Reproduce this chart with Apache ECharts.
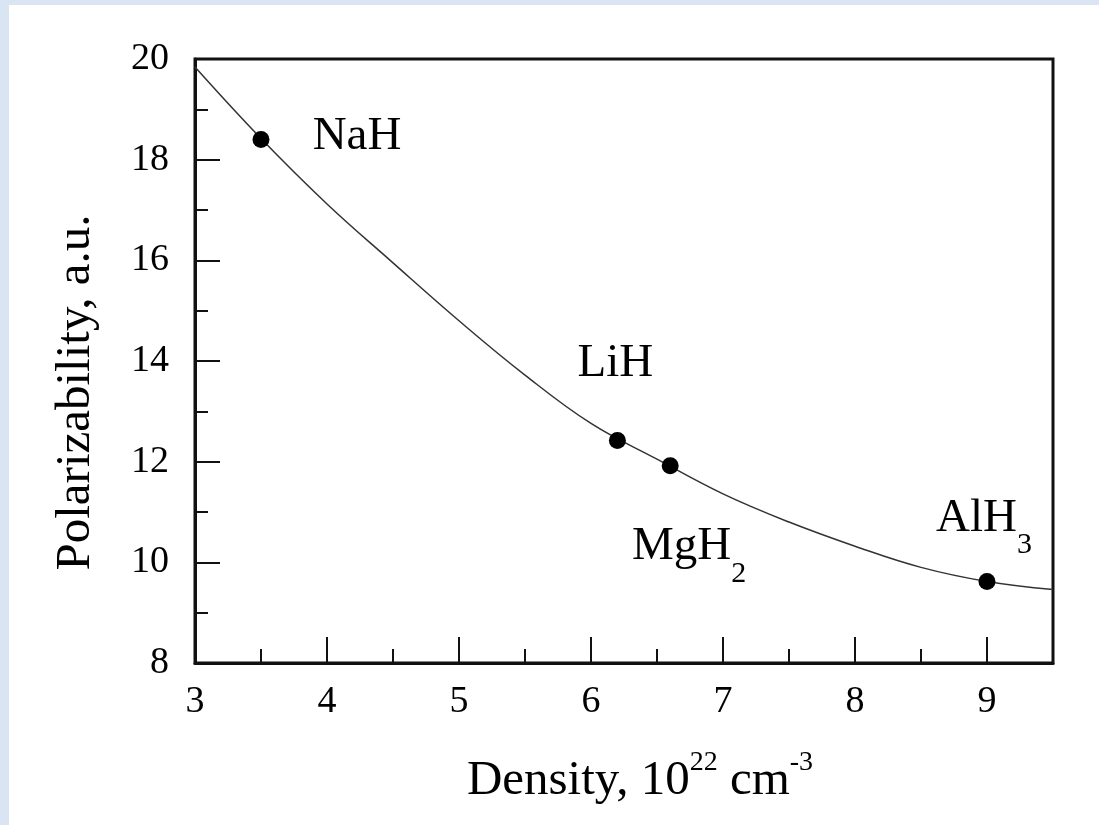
<!DOCTYPE html>
<html>
<head>
<meta charset="utf-8">
<script src="https://cdn.jsdelivr.net/npm/echarts@6/dist/echarts.min.js"></script>
<style>
  html, body { margin: 0; padding: 0; width: 1099px; height: 825px; background: #d9e5f2; overflow: hidden; }
  #chart { position: absolute; left: 9px; top: 5px; width: 1090px; height: 820px; background: #ffffff; }
</style>
</head>
<body>
<div id="chart"></div>
<script>
// ---- data ----
const curveX = [3.0, 3.5, 4.0, 4.5, 5.0, 5.5, 6.0, 6.5, 7.0, 7.5, 8.0, 8.5, 9.0, 9.5];
const curveY = [19.84, 18.42, 17.12, 15.95, 14.80, 13.72, 12.76, 12.05, 11.36, 10.80, 10.32, 9.90, 9.62, 9.46];
const pointNames = ['NaH', 'LiH', 'MgH2', 'AlH3'];
const pointX = [3.5, 6.2, 6.6, 9.0];
const pointY = [18.4, 12.42, 11.92, 9.62];
const xTickLabels = [3, 4, 5, 6, 7, 8, 9];
const yTickLabels = [8, 10, 12, 14, 16, 18, 20];

// ---- presentation ----
const FONT = "'Liberation Serif', 'DejaVu Serif', serif";
const labelText = {
  NaH: '{m|NaH}',
  LiH: '{m|LiH}',
  MgH2: '{m|MgH}{sub|2}',
  AlH3: '{m|AlH}{sub|3}'
};
const labelOffset = {
  NaH: [96, -3],
  LiH: [-2, -77],
  MgH2: [19, 81],
  AlH3: [-3, -63]
};

const curveData = curveX.map((x, i) => [x, curveY[i]]);
const pointData = pointNames.map((n, i) => ({
  name: n,
  value: [pointX[i], pointY[i]],
  label: { formatter: labelText[n], offset: labelOffset[n] }
}));

const chart = echarts.init(document.getElementById('chart'), null, { renderer: 'canvas' });

const xMin = 3, xMax = 9.5, yMin = 8, yMax = 20;

const option = {
  animation: false,
  backgroundColor: '#ffffff',
  grid: {
    left: 186, right: 46, top: 54, bottom: 162,
    show: true, borderColor: '#111', borderWidth: 3, backgroundColor: 'transparent'
  },
  xAxis: [
    {
      type: 'value', min: xMin, max: xMax, interval: 1,
      name: '{m|Density, 10}{sup|22}{m| cm}{sup|-3}',
      nameLocation: 'middle', nameGap: 86,
      nameTextStyle: {
        padding: [0, 0, 0, 32],
        rich: {
          m: { fontFamily: FONT, fontSize: 49, color: '#000' },
          sup: { fontFamily: FONT, fontSize: 28, color: '#000', padding: [0, 0, 37, 0] }
        }
      },
      axisLine: { show: true, lineStyle: { color: '#111', width: 3 } },
      axisTick: { show: true, inside: true, length: 26, lineStyle: { color: '#111', width: 2 } },
      axisLabel: {
        show: true, margin: 20, fontFamily: FONT, fontSize: 38, color: '#000',
        showMaxLabel: false,
        formatter: v => (xTickLabels.indexOf(v) >= 0 ? String(v) : '')
      },
      splitLine: { show: false }
    },
    {
      type: 'value', min: xMin, max: xMax, interval: 0.5, position: 'bottom',
      axisLine: { show: false },
      axisTick: { show: true, inside: true, length: 14, lineStyle: { color: '#111', width: 2 } },
      axisLabel: { show: false },
      splitLine: { show: false }
    }
  ],
  yAxis: [
    {
      type: 'value', min: yMin, max: yMax, interval: 2,
      name: 'Polarizability, a.u.',
      nameLocation: 'middle', nameGap: 94,
      nameTextStyle: { fontFamily: FONT, fontSize: 49, color: '#000', padding: [0, 63, 0, 0] },
      axisLine: { show: true, lineStyle: { color: '#111', width: 3 } },
      axisTick: { show: true, inside: true, length: 25, lineStyle: { color: '#111', width: 2 } },
      axisLabel: {
        show: true, margin: 26, fontFamily: FONT, fontSize: 38, color: '#000',
        formatter: v => (yTickLabels.indexOf(v) >= 0 ? String(v) : '')
      },
      splitLine: { show: false }
    },
    {
      type: 'value', min: yMin, max: yMax, interval: 1, position: 'left',
      axisLine: { show: false },
      axisTick: { show: true, inside: true, length: 13, lineStyle: { color: '#111', width: 2 } },
      axisLabel: { show: false },
      splitLine: { show: false }
    }
  ],
  series: [
    {
      type: 'line', xAxisIndex: 0, yAxisIndex: 0,
      data: curveData, smooth: 0.4, showSymbol: false, symbol: 'none',
      lineStyle: { color: '#333', width: 1.5 },
      z: 2
    },
    {
      type: 'scatter', xAxisIndex: 0, yAxisIndex: 0,
      data: pointData, symbol: 'circle', symbolSize: 17,
      itemStyle: { color: '#000', opacity: 1 },
      label: {
        show: true, position: 'inside', align: 'center', verticalAlign: 'middle',
        opacity: 1,
        rich: {
          m: { fontFamily: FONT, fontSize: 47, color: '#000' },
          sub: { fontFamily: FONT, fontSize: 30, color: '#000', padding: [54, 0, 0, 0] }
        }
      },
      emphasis: { disabled: true },
      z: 3
    }
  ]
};
chart.setOption(option);
</script>
</body>
</html>
